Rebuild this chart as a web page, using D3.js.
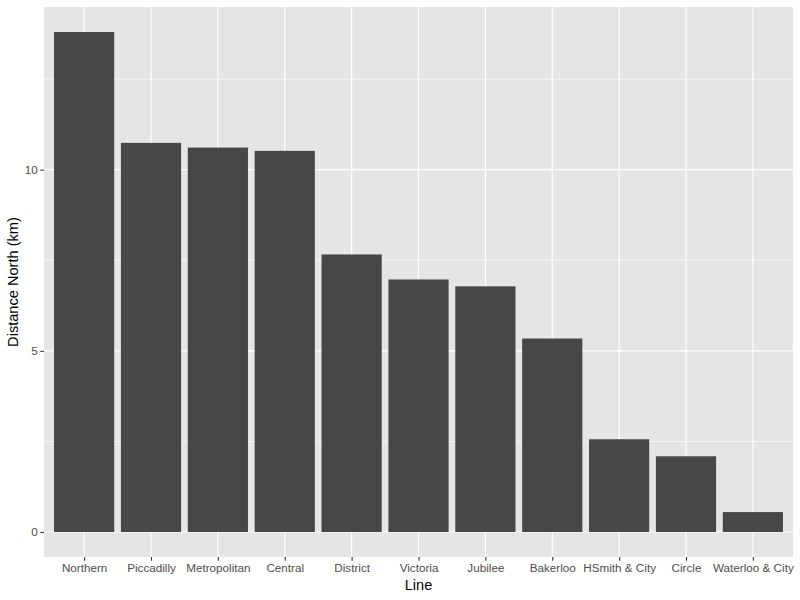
<!DOCTYPE html>
<html><head><meta charset="utf-8">
<script src="https://cdn.jsdelivr.net/npm/d3@7"></script>
<style>body{margin:0;background:#fff}svg{display:block}</style>
</head><body>
<script>
const categories = ["Northern","Piccadilly","Metropolitan","Central","District","Victoria","Jubilee","Bakerloo","HSmith & City","Circle","Waterloo & City"];
const values = [13.80,10.74,10.61,10.52,7.66,6.97,6.78,5.34,2.56,2.09,0.55];
const yTicks = [0,5,10];
const yMinor = [2.5,7.5,12.5];
const xTitle = "Line";
const yTitle = "Distance North (km)";

const W=800,H=600;
const L=44,R=793,T=7,B=557;
const FONT="Liberation Sans, Arial, sans-serif";
const svg=d3.select("body").append("svg").attr("width",W).attr("height",H);
const maxV=d3.max(values);
const pad=maxV*0.05;
const y=d3.scaleLinear().domain([-pad,maxV+pad]).range([B,T]);
const n=categories.length;
const unit=(R-L)/(n-1+1.2);
const xs=d3.scalePoint().domain(categories).range([L+unit*0.6,R-unit*0.6]);

svg.append("rect").attr("x",L).attr("y",T).attr("width",R-L).attr("height",B-T).attr("fill","#E5E5E5");
const g=svg.append("g");
g.selectAll(".minor").data(yMinor).enter().append("line")
 .attr("x1",L).attr("x2",R).attr("y1",d=>y(d)).attr("y2",d=>y(d)).attr("stroke","#fff").attr("stroke-width",0.6);
g.selectAll(".major").data(yTicks).enter().append("line")
 .attr("x1",L).attr("x2",R).attr("y1",d=>y(d)).attr("y2",d=>y(d)).attr("stroke","#fff").attr("stroke-width",1.2);
g.selectAll(".vmajor").data(categories).enter().append("line")
 .attr("x1",d=>xs(d)).attr("x2",d=>xs(d)).attr("y1",T).attr("y2",B).attr("stroke","#fff").attr("stroke-width",1.2);

svg.selectAll(".bar").data(values).enter().append("rect")
 .attr("x",(d,i)=>xs(categories[i])-unit*0.45).attr("width",unit*0.9)
 .attr("y",d=>y(d)).attr("height",d=>y(0)-y(d)).attr("fill","#474747");

const yAxis=d3.axisLeft(y).tickValues(yTicks).tickSize(3.7).tickPadding(2.5).tickFormat(d3.format("d"));
const ya=svg.append("g").attr("transform",`translate(${L},0)`).call(yAxis);
ya.select(".domain").remove();
ya.selectAll("line").attr("stroke","#333").attr("stroke-width",1.1);
ya.selectAll("text").attr("fill","#4D4D4D").style("font-family",FONT).style("font-size","11.7px");

const xAxis=d3.axisBottom(xs).tickSize(3.7).tickPadding(2.5);
const xa=svg.append("g").attr("transform",`translate(0,${B})`).call(xAxis);
xa.select(".domain").remove();
xa.selectAll("line").attr("stroke","#333").attr("stroke-width",1.1);
xa.selectAll("text").attr("fill","#4D4D4D").style("font-family",FONT).style("font-size","11.7px");

svg.append("text").attr("x",(L+R)/2).attr("y",590).attr("text-anchor","middle")
 .style("font-family",FONT).style("font-size","14.6px").attr("fill","#000").text(xTitle);
svg.append("text").attr("transform",`translate(18,${(T+B)/2}) rotate(-90)`).attr("text-anchor","middle")
 .style("font-family",FONT).style("font-size","14.6px").attr("fill","#000").text(yTitle);
</script>
</body></html>
